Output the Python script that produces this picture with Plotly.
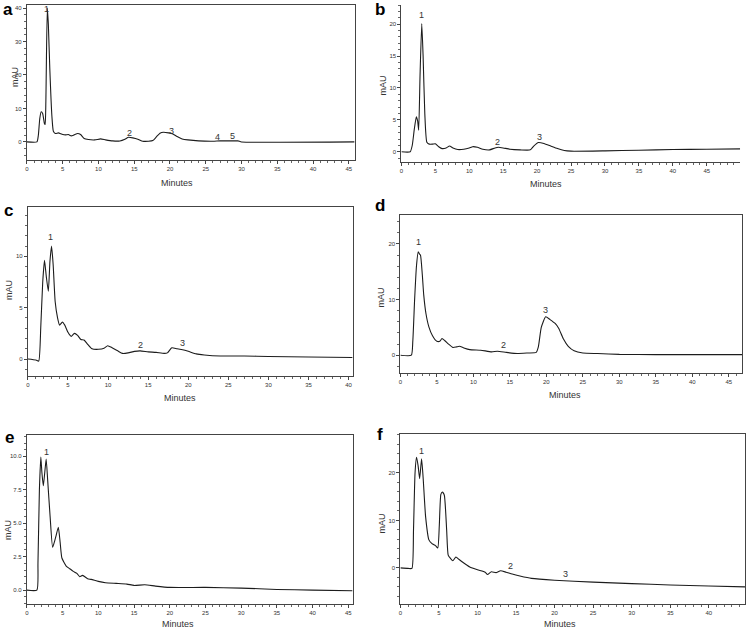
import plotly.graph_objects as go

# ---- chromatogram a ----
a_time = [0, 1.4, 1.6, 1.8, 2.0, 2.2, 2.45, 2.55, 2.65, 2.85, 3.0, 3.2, 3.5, 3.7, 4.0,
          4.4, 4.9, 5.4, 5.8, 6.2, 6.6, 7.1, 7.5, 8.0, 8.6, 9.5, 10.3, 11.0, 12.0, 13.0,
          13.7, 14.2, 14.8, 15.5, 16.2, 17.0, 17.6, 18.1, 18.6, 19.1, 19.8, 20.4, 21.0, 21.7,
          22.5, 24.0, 26.0, 27.0, 28.5, 29.5, 30.0, 45.8]
a_mau = [0, 0, 2, 7, 9, 8.5, 5.5, 5.2, 12, 40, 35, 22, 7.5, 3.2, 2.5,
         2.7, 2.3, 2.1, 2.2, 1.8, 2.1, 2.5, 2.2, 1.0, 0.7, 0.6, 0.9, 0.6, 0.3, 0.3,
         0.8, 1.4, 1.2, 0.8, 0.2, 0.2, 0.4, 1.5, 2.6, 2.9, 2.7, 2.4, 1.6, 0.9,
         0.6, 0.3, 0.2, 0.3, 0.3, 0.3, 0.0, 0.0]
a_peak_names = ["1", "2", "3", "4", "5"]
a_peak_time = [2.8, 14.3, 20.2, 26.7, 28.7]
a_peak_mau = [39.6, 2.6, 3.3, 1.6, 1.8]

# ---- chromatogram b ----
b_time = [0, 1.3, 1.6, 1.9, 2.2, 2.4, 2.55, 2.75, 3.0, 3.2, 3.45, 3.75, 4.1, 4.6, 5.0,
          5.5, 6.0, 6.6, 7.1, 7.6, 8.3, 9.2, 10.0, 10.5, 11.2, 12.0, 13.0, 13.8, 14.3, 15.0,
          16.0, 17.5, 19.0, 19.5, 20.2, 21.0, 22.0, 23.0, 24.0, 25.0, 30.0, 35.0, 40.0, 45.0, 50.0]
b_mau = [0, 0, 1.0, 3.5, 5.5, 4.8, 3.4, 12, 20.1, 15, 6, 1.5, 1.2, 1.2, 1.25,
         0.8, 0.5, 0.6, 0.9, 0.6, 0.35, 0.4, 0.6, 0.8, 0.7, 0.4, 0.3, 0.6, 0.7, 0.6,
         0.4, 0.3, 0.3, 0.9, 1.45, 1.3, 0.9, 0.5, 0.2, 0.1, 0.15, 0.25, 0.35, 0.4, 0.45]
b_peak_names = ["1", "2", "3"]
b_peak_time = [2.9, 14.2, 20.3]
b_peak_mau = [21.5, 1.6, 2.35]

# ---- chromatogram c ----
c_time = [0, 1.0, 1.35, 1.6, 1.85, 2.07, 2.3, 2.55, 2.75, 2.95, 3.15, 3.4, 3.7, 3.95, 4.3,
          4.6, 5.0, 5.4, 5.8, 6.2, 6.6, 7.0, 7.5, 8.0, 8.8, 9.5, 9.95, 10.5, 11.2, 11.8,
          12.5, 13.3, 14.0, 15.0, 16.0, 17.0, 17.4, 17.95, 18.6, 19.3, 20.0, 21.0, 22.0, 24.0,
          27.0, 30.0, 35.0, 40.5]
c_mau = [0, -0.1, -0.2, 3.0, 7.5, 9.6, 8.0, 6.6, 9.5, 11.0, 9.2, 5.6, 4.0, 3.3, 3.6,
         3.3, 2.6, 2.2, 2.5, 2.3, 1.9, 1.85, 1.4, 1.0, 0.95, 1.05, 1.3, 1.1, 0.8, 0.55,
         0.6, 0.75, 0.8, 0.7, 0.65, 0.55, 0.6, 1.1, 1.0, 0.9, 0.75, 0.5, 0.4, 0.3,
         0.3, 0.25, 0.2, 0.15]
c_peak_names = ["1", "2", "3"]
c_peak_time = [2.86, 14.1, 19.3]
c_peak_mau = [11.9, 1.4, 1.55]

# ---- chromatogram d ----
d_time = [0, 1.5, 1.7, 1.95, 2.2, 2.45, 2.6, 2.75, 3.0, 3.2, 3.5, 3.9, 4.4, 5.0, 5.4,
          5.7, 6.1, 6.6, 7.2, 7.7, 8.1, 8.7, 9.5, 11.0, 12.5, 13.3, 14.5, 16.0, 17.5, 18.6,
          18.9, 19.3, 19.9, 20.5, 21.2, 21.7, 22.3, 23.0, 23.8, 25.0, 27.0, 30.0, 35.0, 40.0, 47.0]
d_mau = [0, 0, 2.5, 10, 16, 18.6, 18.2, 18.0, 14.5, 10.8, 7.5, 5.1, 3.5, 2.5, 2.5,
         3.0, 2.6, 2.0, 1.4, 1.5, 1.6, 1.3, 1.0, 0.9, 0.6, 0.7, 0.5, 0.3, 0.4, 0.5,
         1.5, 5.0, 6.9, 6.4, 5.7, 4.8, 3.0, 1.6, 0.8, 0.4, 0.3, 0.15, 0.1, 0.1, 0.1]
d_peak_names = ["1", "2", "3"]
d_peak_time = [2.45, 14.1, 19.9]
d_peak_mau = [20.3, 1.8, 8.2]

# ---- chromatogram e ----
e_time = [0, 1.4, 1.55, 1.75, 1.95, 2.1, 2.3, 2.5, 2.7, 2.9, 3.25, 3.6, 3.85, 4.1, 4.4,
          4.65, 4.9, 5.5, 6.0, 6.5, 7.0, 7.4, 7.8, 8.5, 9.0, 10.0, 11.0, 12.5, 14.0, 15.0,
          16.5, 18.0, 20.0, 25.0, 30.0, 35.0, 40.0, 45.6]
e_mau = [0, 0, 2.0, 7.5, 9.95, 8.8, 7.8, 8.8, 9.8, 8.3, 5.5, 3.2, 3.6, 4.1, 4.7,
         3.6, 2.4, 1.8, 1.6, 1.4, 1.25, 1.0, 1.1, 0.85, 0.8, 0.65, 0.55, 0.5, 0.45, 0.35,
         0.4, 0.3, 0.2, 0.2, 0.15, 0.05, 0.0, -0.05]
e_peak_names = ["1"]
e_peak_time = [2.7]
e_peak_mau = [10.3]

# ---- chromatogram f ----
f_time = [0, 1.0, 1.5, 1.7, 1.9, 2.1, 2.3, 2.5, 2.75, 2.95, 3.27, 3.7, 4.1, 4.55, 4.85,
          5.05, 5.25, 5.45, 5.7, 6.0, 6.2, 6.5, 6.8, 7.2, 7.6, 8.0, 9.0, 10.0, 11.0, 11.3,
          11.8, 12.4, 13.0, 13.7, 14.5, 15.5, 17.0, 20.0, 25.0, 30.0, 35.0, 40.0, 44.7]
f_mau = [0, -0.1, -0.1, 8, 20, 23.3, 21.5, 18.8, 23.0, 19, 10.8, 5.9, 5.1, 4.7, 4.2,
         9.0, 15.5, 16.0, 15.3, 8.0, 2.7, 2.0, 1.5, 2.3, 1.8, 1.3, 0.2, -0.4, -0.9, -1.4,
         -0.8, -1.0, -0.6, -0.9, -1.3, -1.7, -2.2, -2.6, -3.0, -3.3, -3.6, -3.8, -4.0]
f_peak_names = ["1", "2", "3"]
f_peak_time = [2.8, 14.3, 21.4]
f_peak_mau = [24.6, 0.3, -1.3]

W, H = 746, 631
FONT = "Liberation Sans, Arial, sans-serif"
INK = "#1c1c1c"

panels = [
    # letter, time, mau, names, ptime, pmau, box(px l,t,r,b), xrange, yrange, ytick, yfmt, frame
    ("a", a_time, a_mau, a_peak_names, a_peak_time, a_peak_mau,
     (25, 5, 354, 160), [0, 45.8], [-5.4, 40.9], 10, None, True),
    ("b", b_time, b_mau, b_peak_names, b_peak_time, b_peak_mau,
     (401, 5, 741, 162), [0, 49.9], [-1.6, 23], 5, None, False),
    ("c", c_time, c_mau, c_peak_names, c_peak_time, c_peak_mau,
     (26, 207, 352, 376), [0, 40.5], [-1.65, 14.8], 5, None, True),
    ("d", d_time, d_mau, d_peak_names, d_peak_time, d_peak_mau,
     (400, 215, 743, 373), [0, 46.8], [-3.2, 25.2], 10, None, True),
    ("e", e_time, e_mau, e_peak_names, e_peak_time, e_peak_mau,
     (25, 435, 352, 604), [0, 45.6], [-1.04, 11.6], 2.5, ".1f", True),
    ("f", f_time, f_mau, f_peak_names, f_peak_time, f_peak_mau,
     (400, 434, 746, 604), [0, 44.7], [-7.6, 28.2], 10, None, True),
]

# where the panel letters and axis titles sit (px)
letter_pos = {"a": (6, 9), "b": (380, 9), "c": (7, 210), "d": (380, 205), "e": (8, 437), "f": (380, 435)}
minutes_pos = {"a": (176, 183), "b": (546, 184), "c": (179, 398), "d": (565, 395), "e": (177, 624), "f": (560, 624)}
mau_pos = {"a": (13, 77), "b": (383, 85), "c": (7, 290), "d": (381, 297), "e": (6, 530), "f": (382, 523)}

fig = go.Figure()
layout = dict(
    width=W, height=H, margin=dict(l=0, r=0, t=0, b=0),
    paper_bgcolor="white", plot_bgcolor="white", showlegend=False,
    font=dict(family=FONT, color="#333"),
)
annotations = []

for i, (letter, t, v, names, pt, pv, box, xr, yr, ytick, yfmt, frame) in enumerate(panels):
    n = "" if i == 0 else str(i + 1)
    l, tp, r, b = box
    xdom = [l / W, r / W]
    ydom = [1 - b / H, 1 - tp / H]
    fig.add_trace(go.Scatter(
        x=t, y=v, mode="lines", xaxis="x" + n, yaxis="y" + n,
        line=dict(color=INK, width=1.1, shape="spline", smoothing=0.5),
        hoverinfo="skip",
    ))
    layout["xaxis" + n] = dict(
        domain=xdom, range=xr, anchor="y" + n, dtick=5, tick0=0,
        showgrid=False, zeroline=False, showline=True, linecolor="#444", linewidth=1,
        mirror=frame, ticks="outside", ticklen=3, tickcolor="#444",
        tickfont=dict(size=6, color="#333"),
        minor=dict(ticks="outside", ticklen=2, dtick=1, tickcolor="#666"),
    )
    layout["yaxis" + n] = dict(
        domain=ydom, range=yr, anchor="x" + n, dtick=ytick, tick0=0,
        showgrid=False, zeroline=False, showline=True, linecolor="#444", linewidth=1,
        mirror=frame, ticks="outside", ticklen=3, tickcolor="#444",
        tickfont=dict(size=6, color="#333"), tickformat=yfmt,
        minor=dict(ticks="outside", ticklen=2, dtick=ytick / 5, tickcolor="#666"),
    )
    for name, x, y in zip(names, pt, pv):
        annotations.append(dict(
            x=x, y=y, xref="x" + n, yref="y" + n, text=name, showarrow=False,
            font=dict(size=9, color="#333", family=FONT), yanchor="middle",
        ))
    lx, ly = letter_pos[letter]
    annotations.append(dict(
        x=lx / W, y=1 - ly / H, xref="paper", yref="paper", text="<b>%s</b>" % letter,
        showarrow=False, font=dict(size=17, color="black", family=FONT),
        xanchor="center", yanchor="middle",
    ))
    mx, my = minutes_pos[letter]
    annotations.append(dict(
        x=mx / W, y=1 - my / H, xref="paper", yref="paper", text="Minutes",
        showarrow=False, font=dict(size=9, color="#333", family=FONT),
        xanchor="center", yanchor="middle",
    ))
    ax_, ay_ = mau_pos[letter]
    annotations.append(dict(
        x=ax_ / W, y=1 - ay_ / H, xref="paper", yref="paper", text="mAU", textangle=-90,
        showarrow=False, font=dict(size=9, color="#333", family=FONT),
        xanchor="center", yanchor="middle",
    ))

layout["annotations"] = annotations
fig.update_layout(**layout)
# drop the default page margin so the figure sits at the window's corner
fig.write_html(
    "out.html",
    config={"displayModeBar": False},
    post_script="document.body.style.margin='0';",
)
